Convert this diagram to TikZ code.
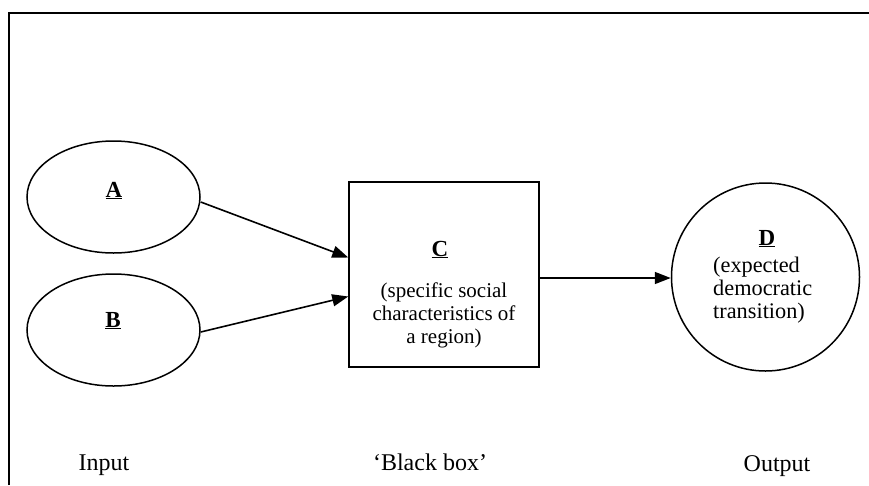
\documentclass[tikz,border=0pt]{standalone}
\usepackage{fontspec}
\setmainfont{Liberation Serif}
\usetikzlibrary{shapes.geometric,arrows.meta}
\begin{document}
\begin{tikzpicture}[x=1pt,y=-1pt,
  shapeline/.style={draw=black,line width=1.5pt},
  oval/.style={shapeline,ellipse,minimum width=173pt,minimum height=112pt,inner sep=0pt},
  boxnode/.style={shapeline,rectangle,minimum width=190pt,minimum height=185pt,inner sep=0pt},
  roundnode/.style={shapeline,circle,minimum size=188pt,inner sep=0pt},
  link/.style={line width=1.6pt,-{Triangle[length=16pt,width=12pt]}},
  txt/.style={font=\fontsize{21}{23}\selectfont,inner sep=0pt},
  dtxt/.style={font=\fontsize{22.3}{23}\selectfont,inner sep=0pt},
  letter/.style={font=\fontsize{23}{23}\selectfont\bfseries,inner sep=0pt,anchor=base},
  caption/.style={font=\fontsize{24}{26}\selectfont,inner sep=0pt,anchor=base}]
  % page extent and frame (left and top rules only)
  \useasboundingbox (0,0) rectangle (869,485);
  \coordinate (frameBL) at (9,485);
  \coordinate (frameTL) at (9,13);
  \coordinate (frameTR) at (869,13);
  \draw[line width=1.8pt] (frameBL) -- (frameTL) -- (frameTR);

  % inputs
  \node[oval] (A) at (113.5,197) {};
  \node[oval] (B) at (113.5,330) {};
  \node[letter] (Al) at (114,197) {\underline{A}};
  \node[letter] (Bl) at (113,327) {\underline{B}};

  % black box
  \node[boxnode] (C) at (444,274.5) {};
  \node[letter] (Cl) at (440,256) {\underline{C}};
  % multi-line nodes: base is the baseline of the last line
  \node[txt,anchor=base,align=center] (Ct) at (444,343)
    {(specific social\\characteristics of\\a region)};

  % output
  \node[roundnode] (D) at (765.5,277) {};
  \node[letter] (Dl) at (767,245) {\underline{D}};
  \node[dtxt,anchor=base west,align=left] (Dt) at (713,318)
    {(expected\\democratic\\transition)};

  % connectors
  \draw[link] ([yshift=-5pt]A.east) -- ([yshift=17pt]C.west);
  \draw[link] ([yshift=-2pt]B.east) -- ([yshift=-22pt]C.west);
  \draw[link] ([yshift=-3.5pt]C.east) -- ([yshift=-1pt]D.west);

  % column captions
  \node[caption] (inp) at (104,470) {Input};
  \node[caption] (blk) at (430,470) {‘Black box’};
  \node[caption] (outp) at (777,471) {Output};
\end{tikzpicture}
\end{document}
